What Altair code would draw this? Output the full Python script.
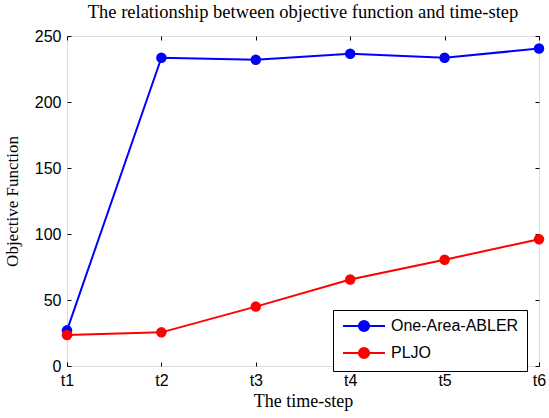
import altair as alt
import pandas as pd

steps = ["t1", "t2", "t3", "t4", "t5", "t6"]
abler = [27, 233.5, 232, 236.5, 233.5, 240.5]
pljo = [23.5, 25.5, 45, 65.5, 80.5, 96]
series_names = ["One-Area-ABLER", "PLJO"]
colors = ["#0000FF", "#FF0000"]

rows = []
for s, a, p in zip(steps, abler, pljo):
    rows.append({"step": s, "value": a, "series": series_names[0]})
    rows.append({"step": s, "value": p, "series": series_names[1]})
df = pd.DataFrame(rows)

# legend symbol: a line with a dot in its middle (units of 6 px)
r = 0.85
c = 2.5
sym = (f"M-1,0L6,0M{c - r},0A{r},{r},0,1,1,{c + r},0"
       f"A{r},{r},0,1,1,{c - r},0Z")

color = alt.Color(
    "series:N",
    scale=alt.Scale(domain=series_names, range=colors),
    legend=alt.Legend(
        title=None,
        orient="none",
        legendX=266,
        legendY=274,
        strokeColor="black",
        fillColor="white",
        padding=8,
        symbolType=sym,
        symbolSize=144,
        symbolStrokeWidth=2,
        symbolOpacity=1,
        labelFont="Liberation Sans",
        labelFontSize=16,
        labelColor="black",
        labelOffset=34,
        rowPadding=7,
        cornerRadius=0,
    ),
)

common_axis = dict(
    labelFont="Liberation Sans",
    labelFontSize=16,
    labelColor="black",
    titleFont="Liberation Serif",
    titleFontWeight="normal",
    titleColor="black",
    tickColor="black",
    tickSize=4,
    offset=-4,
    domain=False,
    grid=False,
)

x_bottom = alt.X(
    "step:N",
    sort=steps,
    scale=alt.Scale(type="point", padding=0),
    axis=alt.Axis(
        title="The time-step",
        titleFontSize=18,
        labelAngle=0,
        labelPadding=6,
        titlePadding=4,
        **common_axis,
    ),
)
y_left = alt.Y(
    "value:Q",
    scale=alt.Scale(domain=[0, 250]),
    axis=alt.Axis(
        title="Objective Function",
        titleFontSize=17,
        values=[0, 50, 100, 150, 200, 250],
        labelPadding=6,
        titleX=-50,
        **common_axis,
    ),
)
x_top = alt.X(
    "step:N",
    sort=steps,
    scale=alt.Scale(type="point", padding=0),
    axis=alt.Axis(orient="top", labels=False, title=None,
                  tickColor="black", tickSize=4, offset=-4,
                  domain=False, grid=False),
)
y_right = alt.Y(
    "value:Q",
    scale=alt.Scale(domain=[0, 250]),
    axis=alt.Axis(orient="right", labels=False, title=None,
                  values=[0, 50, 100, 150, 200, 250],
                  tickColor="black", tickSize=4, offset=-4,
                  domain=False, grid=False),
)

lines = alt.Chart(df).mark_line(strokeWidth=2).encode(
    x=x_bottom, y=y_left, color=color
)
points = alt.Chart(df).mark_point(
    filled=True, size=110, opacity=1, shape="circle"
).encode(x=x_top, y=y_right, color=color)

chart = (
    alt.layer(lines, points)
    .resolve_axis(x="independent", y="independent")
    .properties(
        width=472,
        height=330,
        title=alt.TitleParams(
            "The relationship between objective function and time-step",
            font="Liberation Serif",
            fontSize=18.5,
            fontWeight="normal",
            color="black",
            offset=7,
        ),
        autosize=alt.AutoSizeParams(type="none"),
        padding={"left": 67, "top": 36, "right": 10, "bottom": 52},
    )
    .configure_view(stroke="black", strokeWidth=1)
    .configure(background="white")
)

chart.save("out.html", embed_options={"renderer": "svg", "actions": False})
